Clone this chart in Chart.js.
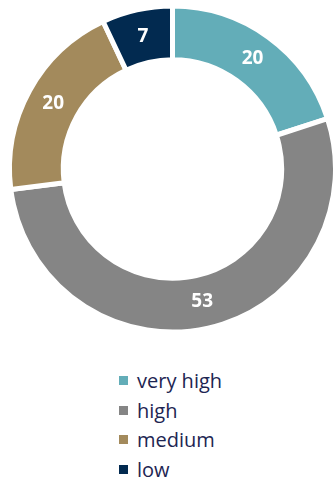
<!DOCTYPE html>
<html>
<head>
<meta charset="utf-8">
<script src="https://cdn.jsdelivr.net/npm/chart.js@4"></script>
<style>
  html, body { margin: 0; padding: 0; background: #fff; }
  body { width: 334px; height: 485px; overflow: hidden; position: relative; font-family: "Open Sans", sans-serif; }
  #wrap { position: absolute; left: 0; top: 0; width: 338px; height: 342px; }
  #legend { list-style: none; margin: 0; padding: 0; position: absolute; left: 119px; top: 366px; }
  #legend li { height: 29.5px; line-height: 29.5px; font-size: 20px; color: #1d2552; display: flex; align-items: center; }
  #legend span.box { width: 9px; height: 9px; display: inline-block; margin-right: 9px; }
</style>
</head>
<body>
<div id="wrap"><canvas id="chart"></canvas></div>
<ul id="legend"></ul>
<script>
const categories = ["very high", "high", "medium", "low"];
const values = [20, 53, 20, 7];
const colors = ["#63adb8", "#858585", "#a38a5c", "#022a50"];

// ===== Value labels on the arcs =====
const arcLabels = {
  id: "arcLabels",
  afterDatasetsDraw(chart) {
    const ctx = chart.ctx;
    const meta = chart.getDatasetMeta(0);
    ctx.save();
    ctx.fillStyle = "#ffffff";
    ctx.font = "bold 19px 'Open Sans', sans-serif";
    ctx.textAlign = "center";
    ctx.textBaseline = "middle";
    meta.data.forEach((arc, i) => {
      const p = arc.tooltipPosition();
      ctx.fillText(values[i], p.x, p.y);
    });
    ctx.restore();
  }
};

const chart = new Chart(document.getElementById("chart"), {
  type: "doughnut",
  data: {
    labels: categories,
    datasets: [{
      data: values,
      backgroundColor: colors,
      borderColor: "#ffffff",
      borderWidth: 5
    }]
  },
  options: {
    responsive: true,
    maintainAspectRatio: false,
    animation: false,
    cutout: "67%",
    layout: { padding: { top: 3, bottom: 7, left: 7, right: 0 } },
    plugins: {
      legend: { display: false },
      tooltip: { enabled: false }
    }
  },
  plugins: [arcLabels]
});

// ===== Legend =====
const legend = document.getElementById("legend");
categories.forEach((c, i) => {
  legend.innerHTML += `<li><span class="box" style="background:${colors[i]}"></span>${c}</li>`;
});
</script>
</body>
</html>
